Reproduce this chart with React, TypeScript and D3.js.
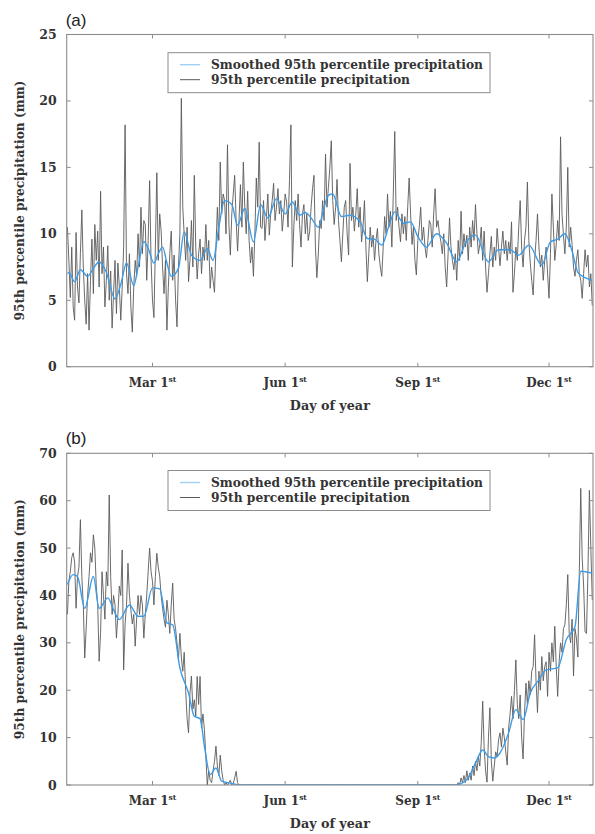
import React from 'react';
import * as d3 from 'd3';

// ---------- DATA ----------
const tickDays = [60, 152, 244, 335];
const tickMonths = ['Mar', 'Jun', 'Sep', 'Dec'];
const yTicksA = [0, 5, 10, 15, 20, 25];
const yTicksB = [0, 10, 20, 30, 40, 50, 60, 70];
const legendLabels = ['Smoothed 95th percentile precipitation', '95th percentile precipitation'];

// Panel (a): daily 95th percentile precipitation (mm), day 1..365
const rawA = [
  10.5, 8.0, 5.2, 9.0, 4.5, 3.5, 10.1, 6.0, 4.8, 8.5,
  11.8, 7.5, 5.0, 3.2, 7.0, 2.75, 6.5, 9.6, 5.5, 10.7,
  8.0, 10.2, 6.0, 13.2, 7.0, 9.0, 4.5, 6.5, 9.1, 5.0,
  7.2, 2.9, 5.5, 8.0, 4.0, 7.8, 6.0, 3.5, 6.0, 9.0,
  18.2, 7.0, 5.5, 8.5, 4.5, 2.6, 6.0, 8.0, 6.8, 10.0,
  7.5, 12.0, 8.5, 11.0, 10.7, 6.5, 9.5, 14.0, 8.0, 5.0,
  3.7, 9.0, 14.6, 8.0, 11.5, 10.2, 7.5, 5.5, 8.0, 2.75,
  6.0, 8.5, 10.2, 6.5, 8.4, 5.0, 3.0, 7.5, 10.0, 20.2,
  12.0, 9.9, 8.0, 10.5, 6.4, 8.0, 11.0, 7.5, 14.4, 9.0,
  6.6, 8.5, 9.6, 7.0, 9.0, 8.0, 10.7, 8.0, 9.5, 5.9,
  7.5, 6.5, 5.6, 9.0, 12.0, 9.5, 15.4, 11.5, 13.0, 12.5,
  10.0, 16.7, 10.7, 8.4, 11.5, 13.0, 14.4, 11.0, 8.7, 11.0,
  13.7, 10.5, 15.4, 12.0, 10.0, 13.2, 9.5, 7.8, 9.0, 6.8,
  10.0, 14.2, 12.0, 16.9, 10.5, 10.4, 12.5, 9.5, 11.2, 13.0,
  9.9, 11.5, 12.5, 13.8, 11.0, 12.0, 13.4, 11.5, 12.5, 10.2,
  11.5, 13.0, 12.4, 10.5, 14.0, 18.2, 7.5, 10.5, 12.5, 11.0,
  13.0, 10.7, 9.0, 11.5, 12.2, 10.0, 11.5, 9.5, 10.2, 12.0,
  13.4, 14.4, 9.0, 6.7, 8.5, 11.0, 10.4, 12.5, 11.0, 16.0,
  12.0, 13.5, 15.0, 17.0, 12.5, 10.7, 12.0, 14.1, 11.0, 9.5,
  7.9, 10.0, 12.0, 12.5, 10.0, 8.4, 15.3, 11.0, 12.0, 10.2,
  11.5, 13.4, 10.5, 12.0, 9.4, 10.5, 12.5, 9.0, 6.4, 8.5,
  10.5, 9.0, 9.9, 8.0, 9.5, 10.4, 8.5, 7.5, 6.8, 9.0,
  11.3, 10.0, 13.0, 10.5, 11.7, 9.0, 13.0, 17.7, 11.0, 12.0,
  10.5, 9.4, 11.5, 10.0, 11.3, 9.5, 12.0, 14.2, 11.5, 9.2,
  10.5, 8.0, 6.9, 9.5, 10.5, 12.0, 9.5, 10.5, 9.0, 8.2,
  9.5, 11.0, 10.7, 9.0, 11.5, 13.4, 10.5, 11.0, 10.0, 9.4,
  8.5, 10.0, 7.5, 6.0, 8.5, 11.2, 9.0, 8.0, 7.3, 8.5,
  6.5, 9.5, 8.0, 11.7, 8.5, 10.0, 9.0, 9.9, 8.0, 10.5,
  9.0, 11.0, 9.5, 12.2, 10.0, 8.5, 9.2, 10.5, 8.0, 10.2,
  7.5, 5.6, 7.0, 8.5, 9.8, 7.5, 9.0, 8.0, 10.4, 9.0,
  7.6, 9.0, 10.2, 8.5, 9.5, 8.0, 9.4, 8.5, 10.9, 5.6,
  7.0, 9.0, 8.0, 10.5, 12.5, 9.0, 7.5, 9.5, 10.5, 13.9,
  9.5, 7.8, 6.5, 5.4, 8.0, 9.5, 11.5, 9.0, 7.5, 8.4,
  6.5, 8.0, 9.0, 7.0, 5.15, 8.5, 13.0, 10.5, 8.0, 9.2,
  11.0, 9.5, 17.3, 11.5, 9.9, 8.5, 10.5, 15.0, 9.0, 10.5,
  9.2, 7.5, 6.8, 8.0, 8.8, 7.0, 6.5, 5.15, 7.0, 8.8,
  7.5, 8.4, 6.0, 7.0, 4.6,
];

const smoothDaysA = [1, 2, 6, 10, 15, 19, 23, 28, 34, 38, 42, 47, 50, 54, 57, 61, 64, 67, 70, 73, 78, 82, 87, 93, 98, 102, 106, 110, 115, 119, 124, 130, 135, 140, 146, 152, 157, 162, 166, 170, 175, 179, 182, 185, 191, 197, 204, 209, 214, 219, 224, 228, 234, 239, 244, 250, 257, 264, 271, 277, 284, 293, 300, 308, 314, 321, 330, 336, 341, 346, 351, 355, 360, 365];
const smoothValsA = [7.0, 7.1, 6.4, 7.3, 6.8, 7.4, 7.9, 7.1, 5.1, 6.2, 7.8, 6.1, 7.5, 9.4, 8.9, 7.8, 8.5, 9.0, 7.8, 6.8, 7.4, 10.15, 8.4, 8.0, 8.9, 8.0, 10.5, 12.5, 12.2, 10.65, 11.9, 9.4, 12.2, 11.2, 12.65, 11.5, 12.4, 11.4, 11.6, 11.2, 10.5, 12.0, 12.9, 13.0, 11.3, 11.4, 10.9, 9.65, 9.6, 9.15, 10.6, 11.65, 10.8, 10.9, 9.8, 9.0, 10.0, 9.3, 7.9, 9.3, 9.9, 7.9, 8.8, 8.8, 8.4, 9.15, 7.65, 9.4, 9.6, 10.0, 8.7, 7.1, 6.7, 6.5];

// Panel (b): daily 95th percentile precipitation (mm), day 1..365
const rawB = [
  36, 43, 45, 48, 49, 47, 37.3, 44, 46, 56,
  44, 38, 26.8, 33, 40, 44, 49, 47, 52.8, 50,
  42, 38, 26.1, 32, 45, 40, 35, 45, 42, 61.2,
  44, 36, 40, 38, 31, 36, 42, 40, 49.6, 24.3,
  34, 38, 46.8, 40, 37, 34, 36, 29.3, 35, 40,
  36, 40, 38, 31, 36, 40, 45, 50, 45, 43,
  38, 44, 48.9, 46, 44, 40, 37.3, 35, 33.3, 39,
  36, 32, 38, 42.6, 35, 33, 30, 26.4, 32, 27,
  24, 28, 20, 14, 11, 19.4, 23, 16, 18, 14.5,
  22.9, 17, 22.9, 12, 15, 11.7, 6, 0, 3, 1,
  0.5, 3, 5, 8.2, 4, 2, 6.3, 3, 1, 0,
  0.5, 0, 0.5, 1, 0, 0.3, 1.5, 2.9, 0.5, 0,
  0, 0, 0, 0, 0, 0, 0, 0, 0, 0,
  0, 0, 0, 0, 0, 0, 0, 0, 0, 0,
  0, 0, 0, 0, 0, 0, 0, 0, 0, 0,
  0, 0, 0, 0, 0, 0, 0, 0, 0, 0,
  0, 0, 0, 0, 0, 0, 0, 0, 0, 0,
  0, 0, 0, 0, 0, 0, 0, 0, 0, 0,
  0, 0, 0, 0, 0, 0, 0, 0, 0, 0,
  0, 0, 0, 0, 0, 0, 0, 0, 0, 0,
  0, 0, 0, 0, 0, 0, 0, 0, 0, 0,
  0, 0, 0, 0, 0, 0, 0, 0, 0, 0,
  0, 0, 0, 0, 0, 0, 0, 0, 0, 0,
  0, 0, 0, 0, 0, 0, 0, 0, 0, 0,
  0, 0, 0, 0, 0, 0, 0, 0, 0, 0,
  0, 0, 0, 0, 0, 0, 0, 0, 0, 0,
  0, 0, 0, 0, 0, 0, 0, 0, 0, 0,
  0, 0.5, 0, 1.5, 0.5, 2.0, 0.5, 3.0, 1.0, 2.5,
  1.0, 4.0, 2.0, 5.0, 3.0, 6.0, 4.0, 9.0, 17.7, 8.0,
  3.0, 0.6, 10.0, 16.3, 5.0, 0.8, 4.0, 7.0, 6.0, 9.5,
  11.0, 8.0, 12.0, 10.0, 7.0, 4.2, 12.0, 15.0, 18.7, 14.0,
  20.0, 26.4, 17.0, 14.0, 19.0, 10.0, 5.5, 15.0, 21.5, 17.0,
  22.0, 19.0, 24.0, 25.0, 31.7, 22.0, 15.3, 24.0, 20.0, 27.1,
  22.0, 25.0, 26.0, 18.7, 28.0, 24.0, 30.0, 26.0, 33.5, 25.0,
  18.7, 26.0, 30.0, 28.0, 33.0, 33.8, 38.0, 44.4, 32.0, 30.0,
  35.0, 23.0, 33.0, 31.0, 27.0, 45.0, 62.6, 48.0, 42.0, 32.3,
  32.0, 45.0, 62.2, 50.0, 39.0,
];

const smoothDaysB = [1, 5, 8, 13, 19, 23, 29, 33, 37, 44, 50, 54, 60, 65, 70, 74, 79, 85, 89, 93, 96, 100, 104, 108, 114, 121, 270, 278, 284, 289, 293, 297, 301, 307, 312, 317, 322, 328, 333, 341, 347, 353, 357, 360, 365];
const smoothValsB = [42.3, 44.4, 44.0, 37.3, 44.0, 37.3, 39.5, 37.0, 34.9, 38.0, 35.6, 35.6, 41.6, 41.4, 34.2, 33.8, 24.7, 19.4, 14.5, 14.0, 8.2, 2.2, 3.6, 0.8, 0.4, 0, 0, 1.1, 4.6, 7.4, 6.0, 5.7, 6.75, 11.0, 15.9, 13.8, 19.4, 22.2, 24.3, 24.7, 30.7, 33.4, 45.1, 45.0, 44.7];

// ---------- STYLE ----------
const SERIF = '"DejaVu Serif", "Liberation Serif", serif';
const AXIS_COLOR = '#8c8c8c';
const TEXT_COLOR = '#333';
const RAW_COLOR = '#5a5a5a';
const SMOOTH_COLOR = '#3d9be6';

type PanelProps = {
  raw: number[];
  sDays: number[];
  sVals: number[];
  yTicks: number[];
  top: number;
  bottom: number;
  letter: string;
  legendTop: number;
  id: string;
};

function Panel({ raw, sDays, sVals, yTicks, top, bottom, letter, legendTop, id }: PanelProps) {
  const left = 66.7;
  const right = 593;
  const x = d3.scaleLinear().domain([0.5, 365.5]).range([left, right]);
  const y = d3.scaleLinear().domain([0, yTicks[yTicks.length - 1]]).range([bottom, top]);
  const rawPath = d3.line<number>().x((_, i) => x(i + 1)).y((d) => y(d))(raw) || '';
  const smoothPath =
    d3.line<number>().x((_, i) => x(sDays[i])).y((d) => y(d)).curve(d3.curveMonotoneX)(sVals) || '';
  const tl = 4;
  const legW = 322;
  const legH = 40;
  const legL = 168;
  return (
    <g>
      <defs>
        <clipPath id={id}>
          <rect x={left} y={top} width={right - left} height={bottom - top} />
        </clipPath>
      </defs>
      <text x={left - 1} y={top - 9} fontFamily='"Liberation Sans", Arial, sans-serif' fontSize={17} fill="#222">
        {letter}
      </text>
      <g clipPath={`url(#${id})`}>
        <path d={rawPath} fill="none" stroke={RAW_COLOR} strokeWidth={0.9} />
        <path d={smoothPath} fill="none" stroke={SMOOTH_COLOR} strokeWidth={1.4} />
      </g>
      <rect x={left} y={top} width={right - left} height={bottom - top} fill="none" stroke={AXIS_COLOR} strokeWidth={1.1} />
      {tickDays.map((d, i) => (
        <g key={'xt' + i}>
          <line x1={x(d)} x2={x(d)} y1={bottom} y2={bottom - tl} stroke={AXIS_COLOR} />
          <line x1={x(d)} x2={x(d)} y1={top} y2={top + tl} stroke={AXIS_COLOR} />
          <text x={x(d)} y={bottom + 20} textAnchor="middle" fontFamily={SERIF} fontWeight="bold" fontSize={12} fill={TEXT_COLOR}>
            {tickMonths[i]} 1<tspan fontSize={7.5} dy={-5}>st</tspan>
          </text>
        </g>
      ))}
      {yTicks.map((v, i) => (
        <g key={'yt' + i}>
          <line x1={left} x2={left + tl} y1={y(v)} y2={y(v)} stroke={AXIS_COLOR} />
          <line x1={right} x2={right - tl} y1={y(v)} y2={y(v)} stroke={AXIS_COLOR} />
          <text x={left - 10} y={y(v) + 4.5} textAnchor="end" fontFamily={SERIF} fontWeight="bold" fontSize={12.5} fill={TEXT_COLOR}>
            {v}
          </text>
        </g>
      ))}
      <text
        x={(left + right) / 2}
        y={bottom + 43}
        textAnchor="middle"
        fontFamily={SERIF}
        fontWeight="bold"
        fontSize={12.5}
        textLength={80}
        lengthAdjust="spacingAndGlyphs"
        fill={TEXT_COLOR}
      >
        Day of year
      </text>
      <text
        transform={`translate(24, ${(top + bottom) / 2}) rotate(-90)`}
        textAnchor="middle"
        fontFamily={SERIF}
        fontWeight="bold"
        fontSize={12.5}
        textLength={240}
        lengthAdjust="spacingAndGlyphs"
        fill={TEXT_COLOR}
      >
        95th percentile precipitation (mm)
      </text>
      <rect x={legL} y={legendTop} width={legW} height={legH} fill="#fff" stroke={AXIS_COLOR} strokeWidth={1} />
      <line x1={legL + 12} x2={legL + 32} y1={legendTop + 12} y2={legendTop + 12} stroke="#9fd0f5" strokeWidth={1.4} />
      <line x1={legL + 12} x2={legL + 32} y1={legendTop + 27} y2={legendTop + 27} stroke={RAW_COLOR} strokeWidth={1} />
      <text
        x={legL + 43}
        y={legendTop + 16.5}
        fontFamily={SERIF}
        fontWeight="bold"
        fontSize={12.5}
        textLength={272}
        lengthAdjust="spacingAndGlyphs"
        fill={TEXT_COLOR}
      >
        {legendLabels[0]}
      </text>
      <text
        x={legL + 43}
        y={legendTop + 31}
        fontFamily={SERIF}
        fontWeight="bold"
        fontSize={12.5}
        textLength={199}
        lengthAdjust="spacingAndGlyphs"
        fill={TEXT_COLOR}
      >
        {legendLabels[1]}
      </text>
    </g>
  );
}

export default function App() {
  return (
    <svg
      width={595}
      height={834}
      viewBox="0 0 595 834"
      style={{ position: 'absolute', left: 0, top: 0, background: '#fff' }}
    >
      <rect x={0} y={0} width={595} height={834} fill="#fff" />
      <Panel raw={rawA} sDays={smoothDaysA} sVals={smoothValsA} yTicks={yTicksA} top={34.5} bottom={366.7} letter="(a)" legendTop={52.7} id="clipA" />
      <Panel raw={rawB} sDays={smoothDaysB} sVals={smoothValsB} yTicks={yTicksB} top={453.3} bottom={785} letter="(b)" legendTop={470.5} id="clipB" />
    </svg>
  );
}
